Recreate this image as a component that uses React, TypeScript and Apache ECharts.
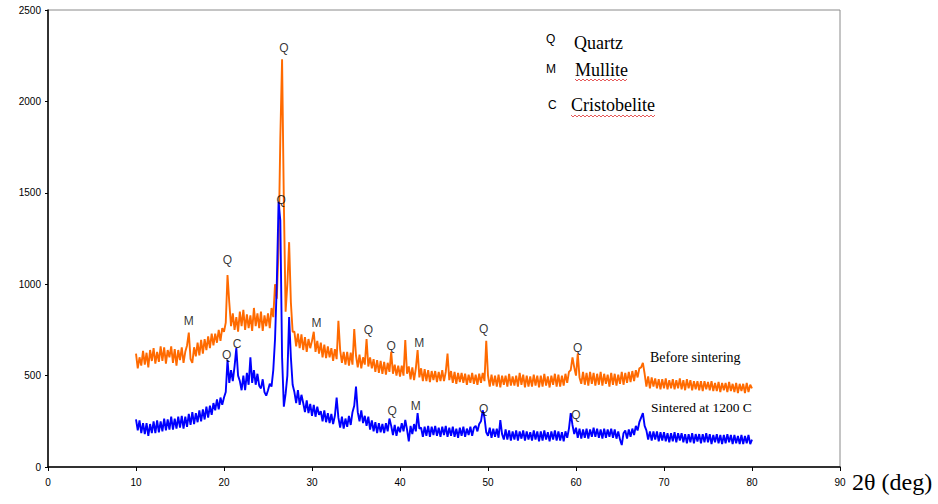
import React, { useEffect, useRef } from "react";
import * as echarts from "echarts";

const xStart = 10;
const xStep = 0.2;

// Before sintering (orange), 2θ = 10.0 … 80.0 in steps of 0.2
const beforeSintering = [
  620, 540, 600, 555, 635,
  560, 625, 545, 640, 580,
  650, 565, 630, 575, 660,
  580, 655, 565, 640, 600,
  660, 570, 645, 555, 640,
  585, 655, 570, 630, 665,
  735, 590, 570, 655, 605,
  680, 610, 695, 620, 700,
  640, 715, 650, 730, 665,
  730, 680, 750, 690, 760,
  740, 790, 1050, 900, 770,
  840, 750, 820, 740, 850,
  770, 860, 750, 835, 760,
  830, 745, 870, 770, 840,
  760, 850, 745, 830, 770,
  840, 760, 870, 820, 1000,
  920, 1200, 1800, 2230, 1450,
  850, 1000, 1230, 900, 740,
  740, 660, 730, 650, 725,
  640, 710, 630, 700, 650,
  690, 740, 630, 690, 620,
  680, 600, 670, 595, 660,
  600, 650, 580, 645, 590,
  800, 640, 570, 630, 560,
  630, 555, 625, 560, 755,
  610, 545, 615, 540, 600,
  560, 700, 550, 600, 540,
  590, 520, 585, 515, 580,
  510, 575, 505, 570, 520,
  630, 510, 560, 500, 555,
  495, 555, 500, 695, 510,
  550, 480, 545, 475, 540,
  640, 490, 540, 470, 535,
  470, 530, 465, 525, 475,
  525, 465, 520, 470, 530,
  470, 520, 620, 475, 525,
  460, 520, 455, 515, 465,
  515, 460, 510, 450, 505,
  460, 515, 455, 505, 450,
  510, 460, 515, 470, 690,
  500, 440, 505, 445, 500,
  440, 505, 435, 500, 450,
  500, 440, 510, 445, 495,
  445, 500, 440, 515, 450,
  505, 435, 500, 440, 495,
  440, 505, 445, 500, 435,
  500, 440, 510, 445, 495,
  435, 500, 450, 510, 440,
  505, 440, 500, 445, 510,
  460, 520, 530, 600, 545,
  500, 620, 490, 455, 520,
  450, 515, 445, 520, 455,
  515, 445, 510, 450, 520,
  445, 510, 455, 505, 440,
  515, 450, 510, 445, 505,
  455, 520, 450, 515, 460,
  520, 465, 525, 470, 530,
  490, 540, 545, 570, 510,
  440, 495, 430, 490, 440,
  485, 430, 480, 425, 480,
  430, 485, 425, 475, 430,
  480, 425, 475, 430, 485,
  425, 475, 420, 480, 430,
  475, 420, 470, 425, 470,
  420, 470, 415, 470, 425,
  465, 420, 470, 415, 460,
  415, 465, 410, 460, 420,
  460, 410, 465, 415, 455,
  410, 460, 405, 455, 415,
  455, 405, 460, 410, 450,
  430,
];

// Sintered at 1200 C (blue)
const sintered1200 = [
  260, 200, 255, 185, 240,
  180, 240, 170, 235, 185,
  250, 185, 255, 190, 250,
  195, 265, 200, 260, 205,
  275, 205, 265, 210, 275,
  215, 280, 210, 275, 220,
  290, 230, 300, 235, 295,
  245, 310, 250, 315, 260,
  330, 270, 335, 285, 350,
  310, 370, 315, 380, 340,
  380, 410, 585, 460, 530,
  470, 550, 650, 500, 470,
  420, 500, 420, 515, 450,
  600, 460, 530, 450, 510,
  445, 430, 480, 410, 390,
  420, 455, 440, 530, 700,
  1000, 1450, 1350, 600, 330,
  400, 500, 820, 600, 450,
  410, 350, 420, 340, 395,
  350, 300, 365, 295, 345,
  280, 340, 275, 330, 285,
  305, 250, 310, 245, 295,
  240, 290, 235, 280, 380,
  270, 215, 275, 210, 265,
  220, 280, 230, 300, 335,
  440, 300, 250, 310, 240,
  280, 225, 275, 205, 255,
  195, 245, 185, 240, 190,
  235, 185, 240, 195, 265,
  225, 175, 230, 170, 220,
  190, 240, 195, 257, 205,
  140, 225, 180, 235, 195,
  295, 210, 215, 165, 220,
  170, 225, 165, 220, 175,
  225, 170, 215, 165, 220,
  175, 225, 165, 215, 170,
  220, 165, 210, 160, 215,
  170, 220, 165, 210, 175,
  220, 170, 215, 225, 195,
  235, 250, 310, 270, 190,
  170, 215, 160, 210, 165,
  210, 160, 257, 180, 150,
  205, 150, 200, 145, 195,
  150, 200, 145, 195, 155,
  200, 145, 195, 150, 190,
  145, 200, 150, 195, 140,
  195, 145, 200, 150, 190,
  140, 195, 150, 200, 145,
  195, 145, 190, 140, 195,
  160, 210, 295, 230, 180,
  215, 160, 210, 155, 205,
  160, 210, 155, 205, 165,
  215, 165, 210, 160, 205,
  155, 210, 160, 205, 165,
  210, 160, 205, 155, 195,
  150, 120, 185, 200, 155,
  205, 165, 210, 175, 225,
  200, 245, 270, 295, 225,
  200, 150, 195, 145, 195,
  150, 195, 140, 190, 145,
  190, 140, 185, 135, 185,
  140, 190, 135, 185, 145,
  185, 135, 180, 130, 180,
  135, 185, 130, 180, 140,
  180, 130, 180, 135, 185,
  135, 180, 125, 175, 135,
  180, 130, 175, 125, 175,
  130, 180, 135, 175, 125,
  175, 130, 170, 125, 175,
  125, 170, 130, 175, 125,
  150,
];

// Phase annotations: [2θ, intensity, letter]
const beforeLabels: [number, number, string][] = [
  [16.0, 800, "M"],
  [20.4, 1130, "Q"],
  [26.8, 2290, "Q"],
  [30.5, 790, "M"],
  [36.4, 750, "Q"],
  [39.0, 660, "Q"],
  [42.2, 680, "M"],
  [49.5, 755, "Q"],
  [60.2, 650, "Q"],
];
const sinteredLabels: [number, number, string][] = [
  [20.3, 615, "Q"],
  [21.5, 675, "C"],
  [26.5, 1460, "Q"],
  [39.1, 305, "Q"],
  [41.8, 335, "M"],
  [49.5, 320, "Q"],
  [60.0, 285, "Q"],
];

const xTicks = [0, 90, 10];
const yTicks = [0, 2500, 500];

function toPairs(vals: number[]) {
  return vals.map((v, i) => [+(xStart + i * xStep).toFixed(1), v]);
}

function wavy(x0: number, x1: number, y: number) {
  const pts: number[][] = [];
  let up = true;
  for (let x = x0; x <= x1; x += 2) {
    pts.push([x, up ? y : y + 2]);
    up = !up;
  }
  return pts;
}

export default function App() {
  const ref = useRef<HTMLDivElement>(null);
  useEffect(() => {
    if (!ref.current) return;
    const chart = echarts.init(ref.current, null, { renderer: "svg" });
    const labelFont = { fontFamily: "Arial, 'Liberation Sans', sans-serif", fontSize: 12, color: "#000" };
    const annot = (arr: [number, number, string][]) => ({
      type: "scatter",
      symbolSize: 0,
      silent: true,
      z: 5,
      data: arr.map((a) => ({ value: [a[0], a[1]], name: a[2] })),
      label: {
        show: true,
        position: "inside",
        formatter: (p: any) => p.name,
        ...labelFont,
      },
    });
    const axisFont = { fontSize: 10, color: "#000", fontFamily: "Arial, 'Liberation Sans', sans-serif" };
    const serif = "'Liberation Serif', 'Times New Roman', serif";
    const sans = "Arial, 'Liberation Sans', sans-serif";
    chart.setOption({
      animation: false,
      backgroundColor: "#fff",
      grid: {
        left: 48,
        right: 98,
        top: 10,
        bottom: 37,
        show: true,
        borderColor: "#8a8a8a",
        borderWidth: 1,
        backgroundColor: "transparent",
      },
      xAxis: {
        type: "value",
        min: xTicks[0],
        max: xTicks[1],
        interval: xTicks[2],
        axisLine: { show: true, lineStyle: { color: "#000", width: 1.5 } },
        axisTick: { show: true, length: 4, lineStyle: { color: "#000" } },
        axisLabel: { margin: 10, formatter: (v: number) => String(v), ...axisFont },
        splitLine: { show: false },
      },
      yAxis: {
        type: "value",
        min: yTicks[0],
        max: yTicks[1],
        interval: yTicks[2],
        axisLine: { show: true, lineStyle: { color: "#000", width: 1.5 } },
        axisTick: { show: true, length: 3, lineStyle: { color: "#000" } },
        axisLabel: { margin: 7, formatter: (v: number) => String(v), ...axisFont },
        splitLine: { show: false },
      },
      series: [
        {
          name: "Before sintering",
          type: "line",
          data: toPairs(beforeSintering),
          showSymbol: false,
          lineStyle: { color: "#FF6A00", width: 1.9 },
          z: 2,
        },
        {
          name: "Sintered at 1200 C",
          type: "line",
          data: toPairs(sintered1200),
          showSymbol: false,
          lineStyle: { color: "#0000FF", width: 1.9 },
          z: 3,
        },
        annot(beforeLabels),
        annot(sinteredLabels),
      ],
      graphic: [
        { type: "text", left: 852, top: 470, style: { text: "2θ (deg)", font: `24px ${serif}`, fill: "#000" } },
        { type: "text", left: 650, top: 350, style: { text: "Before sintering", font: `14px ${serif}`, fill: "#000" } },
        { type: "text", left: 651, top: 400, style: { text: "Sintered at 1200 C", font: `13.5px ${serif}`, fill: "#000" } },
        { type: "text", left: 546, top: 33, style: { text: "Q", font: `12px ${sans}`, fill: "#000" } },
        { type: "text", left: 574, top: 34, style: { text: "Quartz", font: `18px ${serif}`, fill: "#000" } },
        { type: "text", left: 546, top: 63, style: { text: "M", font: `12px ${sans}`, fill: "#000" } },
        { type: "text", left: 575, top: 61, style: { text: "Mullite", font: `18px ${serif}`, fill: "#000" } },
        { type: "text", left: 548, top: 99, style: { text: "C", font: `12px ${sans}`, fill: "#000" } },
        { type: "text", left: 571, top: 96, style: { text: "Cristobelite", font: `18px ${serif}`, fill: "#000" } },
        { type: "polyline", shape: { points: wavy(575, 628, 79) }, style: { stroke: "#e03030", lineWidth: 0.8, fill: "none" } },
        { type: "polyline", shape: { points: wavy(571, 656, 115) }, style: { stroke: "#e03030", lineWidth: 0.8, fill: "none" } },
      ],
    });
    return () => chart.dispose();
  }, []);
  return <div ref={ref} style={{ position: "fixed", left: 0, top: 0, width: 938, height: 504 }} />;
}
